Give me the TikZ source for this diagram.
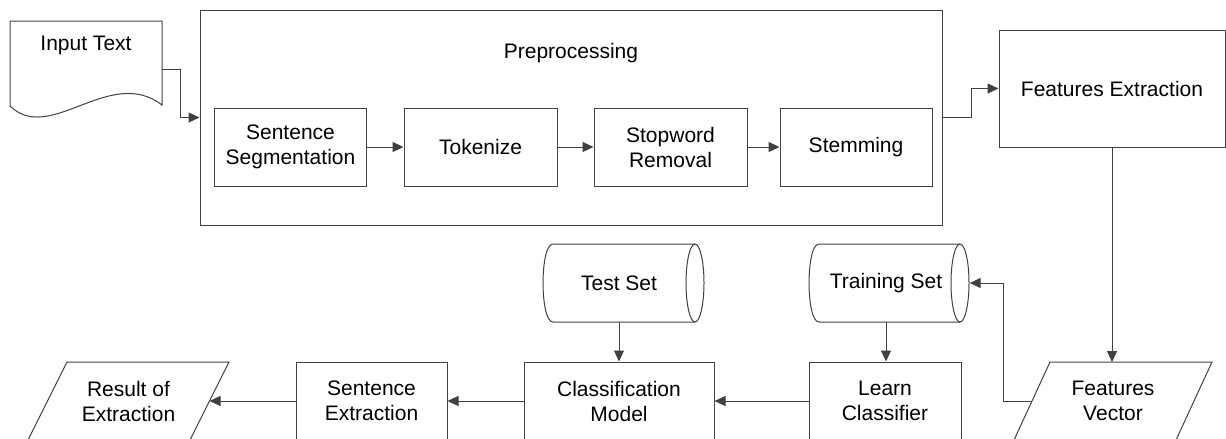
\documentclass[tikz,border=0pt]{standalone}
\usepackage{fontspec}
\setmainfont{Liberation Sans}
\usetikzlibrary{arrows.meta}
\definecolor{lc}{HTML}{404040}
\begin{document}
\begin{tikzpicture}[x=1pt,y=-1pt,
  every node/.style={font=\fontsize{21}{25}\selectfont, align=center, inner sep=0pt},
  box/.style={draw=lc, line width=1pt, minimum height=78pt},
  ln/.style={draw=lc, line width=1pt},
  arr/.style={draw=lc, line width=1pt, -{Triangle[length=11pt,width=10pt]}}
]
\useasboundingbox (0,0) rectangle (1226,439);

% Input Text (document)
\draw[ln] (10,106) -- (10,21) -- (162,21) -- (162,105) .. controls (110,65) and (50,145) .. (10,106);
\node (inp) at (86,45) {Input Text};
\coordinate (inpR) at (162,69);

% Preprocessing
\node[draw=lc, line width=1pt, minimum width=742pt, minimum height=215pt] (pre) at (571,117.5) {};
\node (pretxt) at (571,53) {Preprocessing};
\node[box, minimum width=152pt] (ss) at (290.5,147) {Sentence\\Segmentation};
\node[box, minimum width=153pt] (tok) at (480.5,147) {Tokenize};
\node[box, minimum width=153pt] (stop) at (670.5,147) {Stopword\\Removal};
\node[box, minimum width=152pt] (stem) at (856,147) {Stemming};

% Features Extraction
\node[draw=lc, line width=1pt, minimum width=226pt, minimum height=117pt] (fe) at (1112,88.5) {Features Extraction};

% Cylinders
\draw[ln] (695,244) -- (553,244) .. controls (539.7,244) and (539.7,322) .. (553,322) -- (695,322);
\draw[ln] (695,283) ellipse [x radius=9pt, y radius=39pt];
\node[minimum width=150pt, minimum height=78pt] (test) at (619,283) {Test Set};

\draw[ln] (960,244) -- (819,244) .. controls (805.7,244) and (805.7,322) .. (819,322) -- (960,322);
\draw[ln] (960,283) ellipse [x radius=9pt, y radius=39pt];
\node[minimum width=167pt, minimum height=78pt] (train) at (886,283) {Training Set};

% Bottom row
\node[box, minimum width=151pt] (se) at (371.5,401) {Sentence\\Extraction};
\node[box, minimum width=190pt] (cm) at (619,401) {Classification\\Model};
\node[box, minimum width=152pt] (lc) at (885,401) {Learn\\Classifier};

\draw[ln] (67,362) -- (229,362) -- (190,440) -- (28,440) -- cycle;
\node (res) at (128.5,401) {Result of\\Extraction};
\coordinate (resR) at (209.5,401);

\draw[ln] (1050,362) -- (1212,362) -- (1176,440) -- (1014,440) -- cycle;
\node (fv) at (1113,401) {Features\\Vector};
\coordinate (fvL) at (1032,401);
\coordinate (fvT) at (1112,362);

% Connectors
\draw[arr] (inpR) -- (180,69) |- (pre.west);
\draw[arr] (ss.east) -- (tok.west);
\draw[arr] (tok.east) -- (stop.west);
\draw[arr] (stop.east) -- (stem.west);
\draw[arr] (pre.east) -- (971,117.5) |- (fe.west);
\draw[arr] (fe.south) -- (fvT);
\draw[arr] (fvL) -- (1003,401) |- (train.east);
\draw[arr] (train.south) -- (train.south |- lc.north);
\draw[arr] (test.south) -- (cm.north);
\draw[arr] (lc.west) -- (cm.east);
\draw[arr] (cm.west) -- (se.east);
\draw[arr] (se.west) -- (resR);
\end{tikzpicture}
\end{document}
